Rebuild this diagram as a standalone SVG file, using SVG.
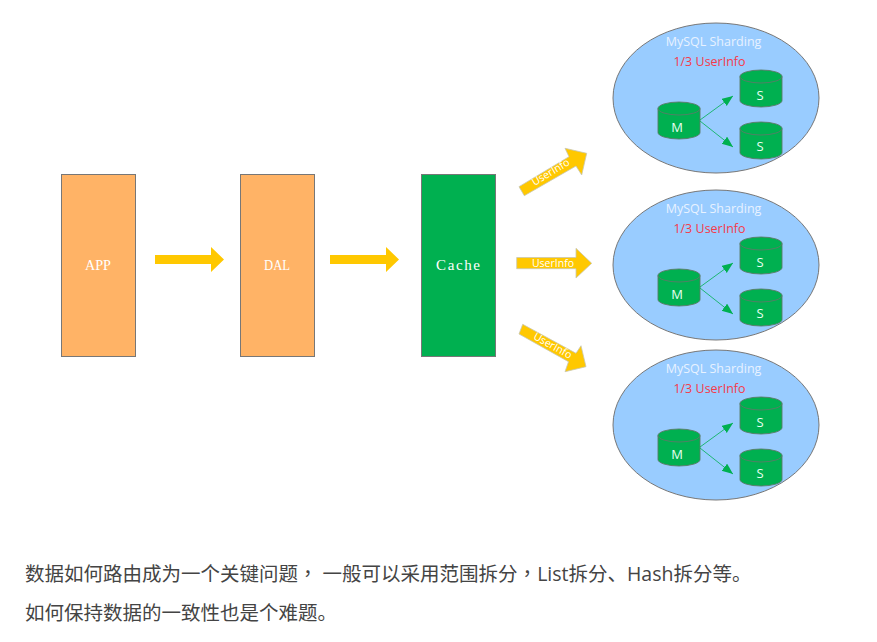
<svg xmlns="http://www.w3.org/2000/svg" width="877" height="642" viewBox="0 0 877 642">
<style>
.box{stroke:#777;stroke-width:1}
.orange{fill:#ffb366}
.green{fill:#00b050}
.boxlabel{font-family:"Liberation Serif","Noto Sans CJK SC",serif;font-size:15px;fill:#fff;text-anchor:middle}
.big{fill:#ffc800}
.flow{fill:#ffc800;stroke:#c8c8b4;stroke-width:.8}
.flowlabel{font-family:"Open Sans","Noto Sans",sans-serif;font-size:10.5px;fill:#fff;text-anchor:middle}
.shard{fill:#99ccff;stroke:#777;stroke-width:1}
.title{font-family:"Open Sans","Noto Sans",sans-serif;font-size:12.5px;fill:#e8f2ff;text-anchor:middle}
.sub{font-family:"Open Sans","Noto Sans",sans-serif;font-size:12.5px;fill:#f53a4a;text-anchor:middle}
.cyl{fill:#00b050;stroke:#5a7a68;stroke-width:.9}
.cyltext{font-family:"Open Sans","Noto Sans",sans-serif;font-size:13px;fill:#e8fff0;text-anchor:middle}
.link{stroke:#00b050;stroke-width:.8;fill:none;marker-end:url(#tip)}
.para{font-family:"Open Sans","Noto Sans CJK SC","Noto Sans",sans-serif;font-size:19.5px;fill:#444}
.tc{font-family:"Noto Sans CJK TC","Noto Sans",sans-serif}
</style>
<defs>
<marker id="tip" markerUnits="userSpaceOnUse" markerWidth="12" markerHeight="10" refX="11" refY="4.5" orient="auto"><path d="M0 0L11 4.5L0 9Z" fill="#00b050"/></marker>
<path id="cylbody" d="M0 6.5A21 6.5 0 0 1 42 6.5V30.5A21 6.5 0 0 1 0 30.5Z" class="cyl"/>
<path id="cyltop" d="M0 6.5A21 6.5 0 0 0 42 6.5" fill="none" stroke="#5a7a68" stroke-width=".9"/>
</defs>
<g id="app"><rect class="box orange" x="61.5" y="174.5" width="74" height="182"/><text class="boxlabel" x="98" y="270" textLength="26" lengthAdjust="spacingAndGlyphs">APP</text></g>
<g id="dal"><rect class="box orange" x="240.5" y="174.5" width="74" height="182"/><text class="boxlabel" x="277" y="270" textLength="26" lengthAdjust="spacingAndGlyphs">DAL</text></g>
<g id="cache"><rect class="box green" x="421.5" y="174.5" width="74" height="182"/><text class="boxlabel" x="458" y="270" textLength="44">Cache</text></g>
<g id="connectors">
<polygon class="big" points="155,255 211,255 211,247 224,259.5 211,272 211,264 155,264"/>
<polygon class="big" points="330,255 386,255 386,247 399,259.5 386,272 386,264 330,264"/>
<polygon class="flow" points="519,186.7 569,156.7 565,148.3 586.7,153.3 581.7,175 576,166 524.3,195.7"/>
<polygon class="flow" points="516.7,257.5 576,257.5 576,248.3 591.7,263.3 576,278 576,268.7 516.7,268.7"/>
<polygon class="flow" points="522.7,324.3 576,353.3 581,345.7 586,366.7 565,371.7 568.5,361.7 519,334"/>
<text class="flowlabel" transform="translate(553,176) rotate(-31)" y="-1" x="0">UserInfo</text>
<text class="flowlabel" x="553" y="267">UserInfo</text>
<text class="flowlabel" transform="translate(552,347) rotate(29)" y="2" x="0">UserInfo</text>
</g>
<g id="shard1">
<ellipse class="shard" cx="716" cy="98" rx="103" ry="75"/>
<text class="title" x="713.5" y="46">MySQL Sharding</text><text class="sub" x="709.5" y="66">1/3 UserInfo</text>
<g transform="translate(658,102)"><use href="#cylbody"/><use href="#cyltop"/><text class="cyltext" x="19" y="30">M</text></g>
<g transform="translate(740,70)"><use href="#cylbody"/><use href="#cyltop"/><text class="cyltext" x="20" y="30">S</text></g>
<g transform="translate(740,122)"><use href="#cylbody"/><use href="#cyltop"/><text class="cyltext" x="20" y="29">S</text></g>
<path class="link" d="M700 120L733 96"/><path class="link" d="M700 121L733 147"/>
</g>
<g id="shard2" transform="translate(0,167)">
<ellipse class="shard" cx="716" cy="98" rx="103" ry="75"/>
<text class="title" x="713.5" y="46">MySQL Sharding</text><text class="sub" x="709.5" y="66">1/3 UserInfo</text>
<g transform="translate(658,102)"><use href="#cylbody"/><use href="#cyltop"/><text class="cyltext" x="19" y="30">M</text></g>
<g transform="translate(740,70)"><use href="#cylbody"/><use href="#cyltop"/><text class="cyltext" x="20" y="30">S</text></g>
<g transform="translate(740,122)"><use href="#cylbody"/><use href="#cyltop"/><text class="cyltext" x="20" y="29">S</text></g>
<path class="link" d="M700 120L733 96"/><path class="link" d="M700 121L733 147"/>
</g>
<g id="shard3" transform="translate(0,327)">
<ellipse class="shard" cx="716" cy="98" rx="103" ry="75"/>
<text class="title" x="713.5" y="46">MySQL Sharding</text><text class="sub" x="709.5" y="66">1/3 UserInfo</text>
<g transform="translate(658,102)"><use href="#cylbody"/><use href="#cyltop"/><text class="cyltext" x="19" y="30">M</text></g>
<g transform="translate(740,70)"><use href="#cylbody"/><use href="#cyltop"/><text class="cyltext" x="20" y="30">S</text></g>
<g transform="translate(740,122)"><use href="#cylbody"/><use href="#cyltop"/><text class="cyltext" x="20" y="29">S</text></g>
<path class="link" d="M700 120L733 96"/><path class="link" d="M700 121L733 147"/>
</g>
<text class="para" x="25" y="581">数据如何路由成为一个关键问题<tspan class="tc">，</tspan> 一般可以采用范围拆分<tspan class="tc">，</tspan>List拆分、Hash拆分等。</text>
<text class="para" x="25" y="620">如何保持数据的一致性也是个难题。</text>
</svg>
